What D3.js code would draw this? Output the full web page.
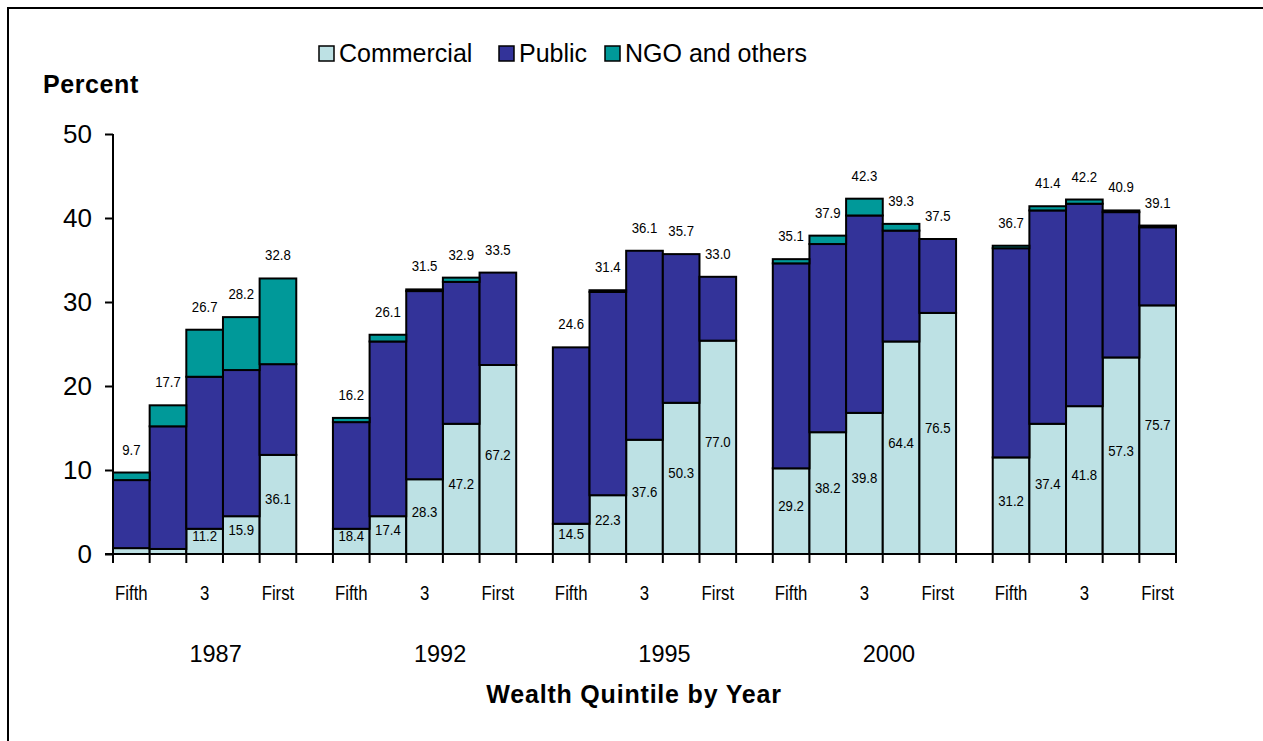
<!DOCTYPE html>
<html>
<head>
<meta charset="utf-8">
<script src="https://cdn.jsdelivr.net/npm/d3@7"></script>
<style>
  html, body { margin: 0; padding: 0; background: #fff; }
  svg text { font-family: "Liberation Sans", Arial, sans-serif; fill: #000; }
</style>
</head>
<body>
<svg id="chart" width="1263" height="741"></svg>
<script>
// ---- data ----
const years = ["1987", "1992", "1995", "2000", ""];
const quintiles = ["Fifth", "Q2", "3", "Q4", "First"];
const quintileTickLabels = ["Fifth", "", "3", "", "First"];
const seriesNames = ["Commercial", "Public", "NGO and others"];

const commercial1987 = [0.7, 0.6, 3.0, 4.5, 11.8];
const commercial1992 = [3.0, 4.5, 8.9, 15.5, 22.5];
const commercial1995 = [3.6, 7.0, 13.6, 18.0, 25.4];
const commercial2000 = [10.2, 14.5, 16.8, 25.3, 28.7];
const commercialLast = [11.5, 15.5, 17.6, 23.4, 29.6];

const public1987 = [8.1, 14.6, 18.1, 17.4, 10.8];
const public1992 = [12.7, 20.8, 22.4, 16.9, 11.0];
const public1995 = [21.0, 24.2, 22.5, 17.7, 7.6];
const public2000 = [24.4, 22.4, 23.5, 13.2, 8.8];
const publicLast = [24.9, 25.4, 24.1, 17.3, 9.3];

const ngo1987 = [0.9, 2.5, 5.6, 6.3, 10.2];
const ngo1992 = [0.5, 0.8, 0.2, 0.5, 0.0];
const ngo1995 = [0.0, 0.2, 0.0, 0.0, 0.0];
const ngo2000 = [0.5, 1.0, 2.0, 0.8, 0.0];
const ngoLast = [0.3, 0.5, 0.5, 0.2, 0.2];

const totalLabels1987 = ["9.7", "17.7", "26.7", "28.2", "32.8"];
const totalLabels1992 = ["16.2", "26.1", "31.5", "32.9", "33.5"];
const totalLabels1995 = ["24.6", "31.4", "36.1", "35.7", "33.0"];
const totalLabels2000 = ["35.1", "37.9", "42.3", "39.3", "37.5"];
const totalLabelsLast = ["36.7", "41.4", "42.2", "40.9", "39.1"];

const shareLabels1987 = ["", "", "11.2", "15.9", "36.1"];
const shareLabels1992 = ["18.4", "17.4", "28.3", "47.2", "67.2"];
const shareLabels1995 = ["14.5", "22.3", "37.6", "50.3", "77.0"];
const shareLabels2000 = ["29.2", "38.2", "39.8", "64.4", "76.5"];
const shareLabelsLast = ["31.2", "37.4", "41.8", "57.3", "75.7"];

const yTicks = [0, 10, 20, 30, 40, 50];

// ---- build table ----
const commercialAll = [commercial1987, commercial1992, commercial1995, commercial2000, commercialLast];
const publicAll = [public1987, public1992, public1995, public2000, publicLast];
const ngoAll = [ngo1987, ngo1992, ngo1995, ngo2000, ngoLast];
const totalAll = [totalLabels1987, totalLabels1992, totalLabels1995, totalLabels2000, totalLabelsLast];
const shareAll = [shareLabels1987, shareLabels1992, shareLabels1995, shareLabels2000, shareLabelsLast];

const rows = [];
const categories = [];
years.forEach((yr, gi) => {
  quintiles.forEach((q, qi) => {
    const key = gi + "-" + q;
    categories.push(key);
    rows.push({
      key, group: gi, qi,
      tick: quintileTickLabels[qi],
      Commercial: commercialAll[gi][qi],
      Public: publicAll[gi][qi],
      "NGO and others": ngoAll[gi][qi],
      totalLabel: totalAll[gi][qi],
      shareLabel: shareAll[gi][qi]
    });
  });
  if (gi < years.length - 1) categories.push("gap" + gi);
});

// ---- scales ----
const svg = d3.select("#chart");
const x = d3.scaleBand().domain(categories).range([113, 1176]).padding(0);
const y = d3.scaleLinear().domain([0, 50]).range([554, 134]);
const color = d3.scaleOrdinal().domain(seriesNames).range(["#BDE1E4", "#333399", "#009999"]);

// frame
svg.append("rect").attr("x", 8).attr("y", 8).attr("width", 1400).attr("height", 900)
  .attr("fill", "none").attr("stroke", "#000").attr("stroke-width", 2);

// stacked bars
const stacked = d3.stack().keys(seriesNames)(rows);
const layers = svg.append("g").selectAll("g").data(stacked).join("g")
  .attr("fill", d => color(d.key));
layers.selectAll("rect").data(d => d).join("rect")
  .attr("x", d => x(d.data.key))
  .attr("width", x.bandwidth())
  .attr("y", d => y(d[1]))
  .attr("height", d => y(d[0]) - y(d[1]))
  .attr("stroke", "#000").attr("stroke-width", 2);

// y axis
const yAxis = svg.append("g").attr("transform", "translate(113,0)")
  .call(d3.axisLeft(y).tickValues(yTicks).tickSize(8).tickPadding(13).tickFormat(d3.format("d")));
yAxis.select(".domain").attr("stroke-width", 2).attr("d", "M0," + y(50) + "V" + y(0));
yAxis.selectAll(".tick line").attr("stroke-width", 2);
yAxis.selectAll("text").attr("font-size", 26).attr("dy", "0.34em");

// x axis line & ticks at category boundaries
const boundaries = categories.map(c => x(c)).concat([x.range()[1]]);
svg.append("line").attr("x1", 105).attr("x2", x.range()[1]).attr("y1", y(0)).attr("y2", y(0))
  .attr("stroke", "#000").attr("stroke-width", 2);
svg.append("g").selectAll("line").data(boundaries).join("line")
  .attr("x1", d => d).attr("x2", d => d)
  .attr("y1", y(0)).attr("y2", y(0) + 9)
  .attr("stroke", "#000").attr("stroke-width", 2);

// quintile tick labels
svg.append("g").selectAll("text").data(rows.filter(r => r.tick)).join("text")
  .attr("transform", d => `translate(${x(d.key) + x.bandwidth() / 2},600) scale(0.84,1)`)
  .attr("text-anchor", "middle").attr("font-size", 20)
  .text(d => d.tick);

// year labels
years.forEach((yr, gi) => {
  if (!yr) return;
  const first = x(gi + "-" + quintiles[0]);
  const last = x(gi + "-" + quintiles[4]) + x.bandwidth();
  svg.append("text")
    .attr("x", (first + last) / 2 + 11 + gi * 4.5).attr("y", 662)
    .attr("text-anchor", "middle").attr("font-size", 23.5)
    .text(yr);
});

// total labels above bars
svg.append("g").selectAll("text").data(rows).join("text")
  .attr("transform", d => {
    const t = d.Commercial + d.Public + d["NGO and others"];
    return `translate(${x(d.key) + x.bandwidth() / 2},${y(t) - 18}) scale(0.88,1)`;
  })
  .attr("text-anchor", "middle").attr("font-size", 15)
  .text(d => d.totalLabel);

// share labels inside commercial segment
svg.append("g").selectAll("text").data(rows.filter(r => r.shareLabel)).join("text")
  .attr("transform", d => `translate(${x(d.key) + x.bandwidth() / 2},${(y(0) + y(d.Commercial)) / 2 + 0}) scale(0.88,1)`)
  .attr("text-anchor", "middle").attr("font-size", 15)
  .text(d => d.shareLabel);

// axis titles
svg.append("text").attr("x", 43).attr("y", 93).attr("font-size", 25).attr("font-weight", "bold")
  .attr("letter-spacing", 0.6).text("Percent");
svg.append("text").attr("x", 634).attr("y", 703).attr("text-anchor", "middle")
  .attr("font-size", 25).attr("font-weight", "bold").attr("letter-spacing", 0.8)
  .text("Wealth Quintile by Year");

// legend
const legendX = [319, 499, 605];
const legend = svg.append("g").selectAll("g").data(seriesNames).join("g")
  .attr("transform", (d, i) => `translate(${legendX[i]},46)`);
legend.append("rect").attr("width", 15).attr("height", 15)
  .attr("fill", d => color(d)).attr("stroke", "#000").attr("stroke-width", 1.5);
legend.append("text").attr("x", 20).attr("y", 16).attr("font-size", 25).text(d => d);
</script>
</body>
</html>
